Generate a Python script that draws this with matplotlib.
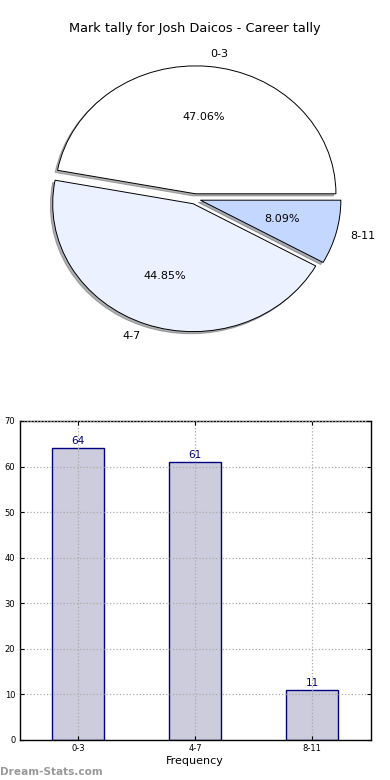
import matplotlib
matplotlib.use("Agg")
import matplotlib.pyplot as plt
import numpy as np

# data
categories = ["0-3", "4-7", "8-11"]
counts = [64, 61, 11]
pie_colors = ["#ffffff", "#ebf1ff", "#c4d7ff"]
explode = [0.04, 0.04, 0.04]
y_ticks = [0, 10, 20, 30, 40, 50, 60, 70]

fig = plt.figure(figsize=(3.9, 7.8), dpi=100)

# pie
ax1 = fig.add_axes([0.05, 0.540, 0.9, 0.41])
wedges, texts, autotexts = ax1.pie(counts, labels=categories, colors=pie_colors,
                                   explode=explode, autopct="%.2f%%",
                                   shadow={"ox": -0.012, "oy": -0.012, "shade": 0.6},
                                   wedgeprops={"edgecolor": "black", "linewidth": 0.7},
                                   textprops={"fontsize": 8})
ax1.set_aspect("auto")
ax1.set_xlim(-1.25, 1.25)
ax1.set_ylim(-1.25, 1.25)
ax1.set_title("Mark tally for Josh Daicos - Career tally", fontsize=9.3, pad=5)

# bars
ax2 = fig.add_axes([0.05, 0.0513, 0.9, 0.409])
x = np.arange(len(categories))
ax2.bar(x, counts, width=0.45, color="#ccccdd", edgecolor="navy", linewidth=1)
for xi, v in zip(x, counts):
    ax2.text(xi, v + 0.5, str(v), ha="center", va="bottom", color="navy", fontsize=7.5)
ax2.set_xlim(-0.5, 2.5)
ax2.set_ylim(0, 70)
ax2.set_xticks(x)
ax2.set_xticklabels(categories)
ax2.set_yticks(y_ticks)
ax2.tick_params(labelsize=6, direction="in", top=True, right=True, length=3, pad=3)
ax2.grid(True, linestyle=":", color="#aaaaaa", linewidth=0.9)
ax2.set_axisbelow(False)
ax2.set_xlabel("Frequency", fontsize=8, labelpad=2)
for s in ax2.spines.values():
    s.set_linewidth(1)

fig.text(0.0, 0.004, "Dream-Stats.com", fontsize=7.6, color="#999999",
         fontweight="bold", ha="left", va="bottom")

fig.savefig("out.png", dpi=100)
